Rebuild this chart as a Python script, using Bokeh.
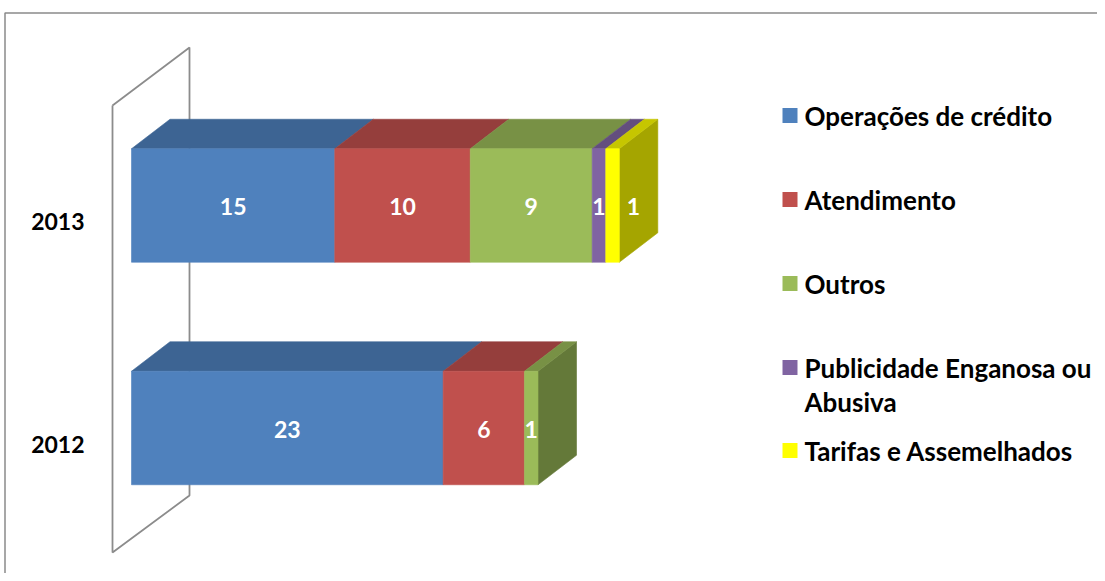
import textwrap
from bokeh.plotting import figure
from bokeh.models import Range1d, ColumnDataSource
from bokeh.core.properties import value
from bokeh.embed import file_html
from bokeh.resources import INLINE

# ---------------- data ----------------
years = ["2013", "2012"]
categories = ["Operações de crédito", "Atendimento", "Outros",
              "Publicidade Enganosa ou Abusiva", "Tarifas e Assemelhados"]
values_2013 = [15, 10, 9, 1, 1]
values_2012 = [23, 6, 1, 0, 0]
series = {"2013": values_2013, "2012": values_2012}

# ---------------- style / layout ----------------
colors = ["#4F81BD", "#C0504D", "#9BBB59", "#8064A2", "#FFFF00"]
FONT = value("Lato")
W, H = 1097, 573
PAGE_OFF = 0        # canvas appears at the page origin in the capture
SX = 13.55          # px per unit on value axis
SY = 222.5          # px per category step
X0_PX = 131         # page x of value 0
Y_TOP_CAT_PX = 205  # page y of centre of top category
year_pos = {"2013": 1, "2012": 0}
BAR_H_PX = 113.5
DEPTH_X_PX, DEPTH_Y_PX = 38.5, 29.5


def px_to_x(px):
    return (px - X0_PX) / SX


def py_to_y(py):
    return 1 + (Y_TOP_CAT_PX - py) / SY


def shade(hexc, f):
    h = hexc.lstrip("#")
    r, g, b = (int(h[i:i + 2], 16) for i in (0, 2, 4))
    return "#%02x%02x%02x" % (int(r * f), int(g * f), int(b * f))


BH = BAR_H_PX / SY
DX = DEPTH_X_PX / SX
DY = DEPTH_Y_PX / SY

p = figure(width=W, height=H, output_backend="svg", toolbar_location=None,
           x_range=Range1d(px_to_x(PAGE_OFF), px_to_x(PAGE_OFF + W)),
           y_range=Range1d(py_to_y(PAGE_OFF + H), py_to_y(PAGE_OFF)),
           min_border=0, x_axis_location=None, y_axis_location=None,
           outline_line_color=None, background_fill_color="white",
           border_fill_color="white")
p.grid.visible = False

# chart-area border (top and left edges visible)
p.line([px_to_x(4.5), px_to_x(4.5), px_to_x(PAGE_OFF + W)],
       [py_to_y(PAGE_OFF + H), py_to_y(12.5), py_to_y(12.5)],
       line_color="#8A8A8A", line_width=1.5)

# back wall of the 3D plot area
wall_px = [(112, 105), (189, 47), (189, 495), (112, 552), (112, 105)]
p.line([px_to_x(a) for a, b in wall_px], [py_to_y(b) for a, b in wall_px],
       line_color="#8C8C8C", line_width=1.8)

# ---------------- bars ----------------
front = dict(y=[], left=[], right=[], color=[])
tops = dict(xs=[], ys=[], color=[])
sides = dict(xs=[], ys=[], color=[])
labels = dict(x=[], y=[], text=[], dx=[])
label_dx = {("2013", "Tarifas e Assemelhados"): 21}

for yr in years:
    vals = series[yr]
    yc = year_pos[yr]
    yt, yb = yc + BH / 2, yc - BH / 2
    left = 0
    last = None
    for cat, v, col in zip(categories, vals, colors):
        if v == 0:
            continue
        right = left + v
        front["y"].append(yc)
        front["left"].append(left)
        front["right"].append(right)
        front["color"].append(col)
        tops["xs"].append([left, right, right + DX, left + DX])
        tops["ys"].append([yt, yt, yt + DY, yt + DY])
        tops["color"].append(shade(col, 0.78))
        labels["x"].append((left + right) / 2)
        labels["y"].append(yc)
        labels["text"].append(str(v))
        labels["dx"].append(label_dx.get((yr, cat), 0))
        last = (right, col)
        left = right
    r, col = last
    sides["xs"].append([r, r, r + DX, r + DX])
    sides["ys"].append([yb, yt, yt + DY, yb + DY])
    sides["color"].append(shade(col, 0.65))

p.patches("xs", "ys", source=ColumnDataSource(sides), fill_color="color",
          line_color="color", line_width=0.6)
p.patches("xs", "ys", source=ColumnDataSource(tops), fill_color="color",
          line_color="color", line_width=0.6)
p.hbar(y="y", left="left", right="right", height=BH,
       source=ColumnDataSource(front), fill_color="color",
       line_color="color", line_width=0.6)

p.text("x", "y", text="text", x_offset="dx", y_offset=1,
       source=ColumnDataSource(labels),
       text_font=FONT, text_font_style="bold", text_font_size="23px",
       text_color="white", text_align="center", text_baseline="middle")

# category labels
p.text(x=[px_to_x(84)] * len(years), y=[year_pos[y] for y in years],
       text=years, y_offset=16, text_font=FONT, text_font_style="bold",
       text_font_size="23px", text_color="black", text_align="right",
       text_baseline="middle")

# ---------------- legend ----------------
legend_rows_px = [115, 199, 283, 367, 450]
LINE_STEP = 34
sq = dict(x=[], y=[], color=[])
lt = dict(x=[], y=[], text=[])
for cat, col, ry in zip(categories, colors, legend_rows_px):
    sq["x"].append(px_to_x(789.5))
    sq["y"].append(py_to_y(ry))
    sq["color"].append(col)
    for i, line in enumerate(textwrap.wrap(cat, 24)):
        lt["x"].append(px_to_x(804))
        lt["y"].append(py_to_y(ry + i * LINE_STEP))
        lt["text"].append(line)

p.scatter("x", "y", marker="square", size=15, source=ColumnDataSource(sq),
          fill_color="color", line_color=None)
p.text("x", "y", text="text", source=ColumnDataSource(lt), text_font=FONT,
       text_font_style="bold", text_font_size="26px", text_color="black",
       text_align="left", text_baseline="middle")

open("out.html", "w").write(file_html(p, INLINE))
